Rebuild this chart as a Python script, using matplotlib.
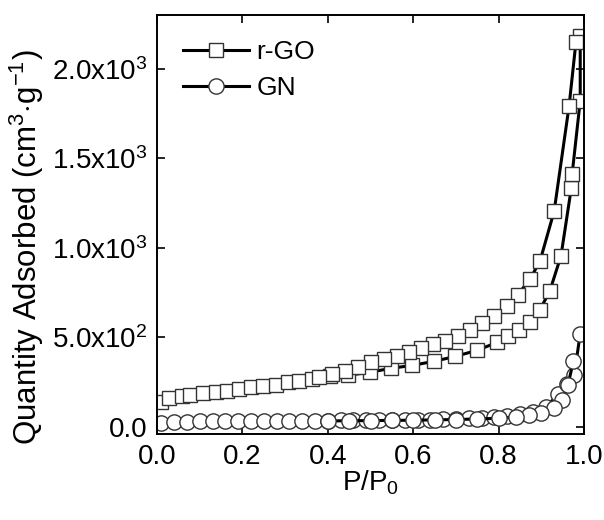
import numpy as np
import matplotlib
matplotlib.use("Agg")
import matplotlib.pyplot as plt

plt.rcParams['font.family'] = ['Liberation Sans', 'DejaVu Sans']
plt.rcParams['mathtext.fontset'] = 'custom'
plt.rcParams['mathtext.rm'] = 'Liberation Sans'
plt.rcParams['mathtext.it'] = 'Liberation Sans'

# r-GO isotherm, adsorption branch
rgo_ads_p = [0.01, 0.028, 0.058, 0.077, 0.107, 0.137, 0.164, 0.192, 0.220, 0.248,
             0.278, 0.306, 0.333, 0.363, 0.405, 0.447, 0.499, 0.548, 0.597, 0.649,
             0.698, 0.749, 0.796, 0.822, 0.848, 0.874, 0.897, 0.920, 0.946, 0.970,
             0.972, 0.991, 0.991]
rgo_ads_q = [139, 161, 172, 178, 189, 194, 200, 211, 222, 228,
             233, 250, 256, 267, 283, 289, 306, 328, 344, 367,
             394, 428, 472, 506, 539, 589, 656, 761, 956, 1333,
             1411, 1822, 2183]

# r-GO isotherm, desorption branch
rgo_des_p = [0.981, 0.965, 0.930, 0.897, 0.874, 0.845, 0.820, 0.789, 0.761, 0.733,
             0.705, 0.674, 0.646, 0.618, 0.590, 0.562, 0.532, 0.501, 0.471, 0.440,
             0.410, 0.380]
rgo_des_q = [2150, 1794, 1206, 928, 828, 739, 678, 622, 583, 544,
             511, 483, 461, 439, 417, 394, 378, 361, 333, 312,
             296, 281]

# GN isotherm
gn_ads_p = [0.01, 0.04, 0.07, 0.10, 0.13, 0.16, 0.19, 0.22, 0.25, 0.28,
            0.31, 0.34, 0.37, 0.40, 0.43, 0.46, 0.49, 0.52, 0.55, 0.58,
            0.61, 0.64, 0.67, 0.70, 0.73, 0.76, 0.79, 0.82, 0.85, 0.88,
            0.91, 0.94, 0.96, 0.977, 0.991]
gn_ads_q = [22, 28, 30, 31, 32, 33, 33, 34, 34, 35,
            35, 36, 36, 36, 37, 37, 38, 38, 39, 40,
            41, 42, 44, 46, 48, 50, 55, 61, 72, 83,
            111, 183, 240, 289, 522]
gn_des_p = [0.975, 0.962, 0.948, 0.93, 0.90, 0.87, 0.84, 0.80, 0.75, 0.70,
            0.65, 0.60, 0.55, 0.50, 0.45, 0.40]
gn_des_q = [367, 233, 150, 105, 80, 65, 56, 49, 45, 42,
            40, 38, 37, 36, 35, 34]

yticks = [0, 500, 1000, 1500, 2000]
ytick_labels = ['0.0', r'5.0x10$^2$', r'1.0x10$^3$', r'1.5x10$^3$', r'2.0x10$^3$']

fig = plt.figure(figsize=(6.04, 5.20), dpi=100)
ax = fig.add_axes([0.26, 0.165, 0.707, 0.806])

sq = dict(marker='s', ms=10, mfc='white', mec='#333333', mew=1.0,
          color='black', lw=2.2)
ci = dict(marker='o', ms=11, mfc='white', mec='#333333', mew=1.0,
          color='black', lw=2.2)

ax.plot(rgo_ads_p, rgo_ads_q, label='r-GO', **sq)
ax.plot(rgo_des_p, rgo_des_q, **sq)
ax.plot(gn_ads_p, gn_ads_q, label='GN', **ci)
ax.plot(gn_des_p, gn_des_q, **ci)

ax.set_xlim(0, 1.0)
ax.set_ylim(-40, 2300)
ax.set_xticks(np.arange(0, 1.01, 0.2))
ax.set_xticklabels(['0.0', '0.2', '0.4', '0.6', '0.8', '1.0'])
ax.set_yticks(yticks)
ax.set_yticklabels(ytick_labels)
ax.tick_params(direction='in', top=True, right=True, length=6, width=1.2,
               labelsize=20, pad=7)
for s in ax.spines.values():
    s.set_linewidth(1.4)

ax.set_xlabel(r'P/P$_0$', fontsize=20, labelpad=-1)
ax.set_ylabel(r'Quantity Adsorbed (cm$^3$$\cdot$g$^{-1}$)', fontsize=22.5)
ax.yaxis.set_label_coords(-0.26, 0.445)

ax.legend(loc='upper left', bbox_to_anchor=(0.06, 0.94), frameon=False,
          fontsize=19, handlelength=2.5, handletextpad=0.3, labelspacing=0.45,
          borderaxespad=0, borderpad=0)

fig.savefig('out.png', dpi=100)
